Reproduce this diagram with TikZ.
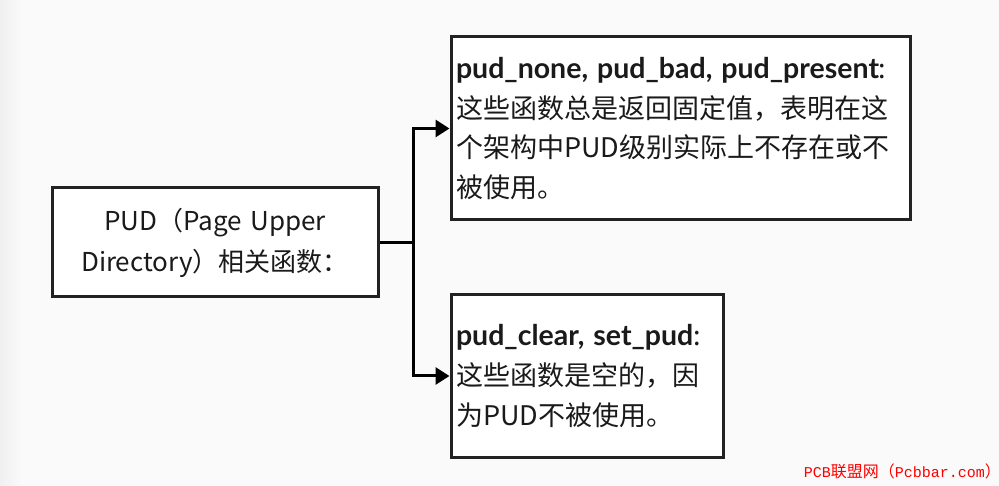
\documentclass[tikz,border=0pt]{standalone}
\usepackage{fontspec}
\setmainfont{Noto Sans CJK SC}
\newfontfamily\boldlat{Lato}[UprightFont=* Bold]
\newfontfamily\monolat{Liberation Mono}
\usetikzlibrary{arrows.meta}
\definecolor{bg}{HTML}{FAFAFA}
\definecolor{edge}{HTML}{222222}
\definecolor{ink}{HTML}{1A1A1A}
\definecolor{wm}{HTML}{FF0000}
\newcommand{\bl}[1]{{\boldlat\fontsize{28.5}{39.5}\selectfont #1}}
\tikzset{
  box/.style={draw=edge, line width=3pt, fill=white, text=ink, inner xsep=5pt, inner ysep=0pt, align=left},
  conn/.style={draw=black, line width=3pt},
  arr/.style={conn, -{Triangle[length=14pt,width=17pt]}},
}
\begin{document}
\begin{tikzpicture}[x=1pt,y=-1pt]
\fill[bg] (0,0) rectangle (999,486);
\shade[left color=black!6, right color=bg, draw=none] (0,0) rectangle (22,486);
\useasboundingbox (0,0) rectangle (999,486);

\node[box, minimum width=326pt, minimum height=109pt, align=center, text width=316pt,
  font=\fontsize{26}{41}\selectfont] (pud) at (215,242.5)
  {PUD（Page Upper\\Directory）相关函数：};

\node[box, minimum width=459pt, minimum height=183pt, text width=449pt,
  font=\fontsize{27}{39.5}\selectfont] (top) at (680.5,128.5)
  {\bl{pud\_none, pud\_bad, pud\_present}:\\这些函数总是返回固定值，表明在这\\个架构中PUD级别实际上不存在或不\\被使用。};

\node[box, minimum width=272pt, minimum height=162pt, text width=262pt,
  font=\fontsize{27}{40}\selectfont] (bot) at (587,376)
  {\bl{pud\_clear, set\_pud}:\\这些函数是空的，因\\为PUD不被使用。};

\coordinate (j) at (413,242.5);
\draw[conn] (pud.east) -- (j);
\draw[arr] (j) |- (top.west);
\draw[arr] (j) |- (bot.west);

\node[text=wm, font=\fontsize{16}{16}\selectfont, anchor=east, inner sep=0pt] (mark) at (1001,471)
  {{\monolat\fontsize{15}{15}\selectfont PCB}联盟网（{\monolat\fontsize{15}{15}\selectfont Pcbbar.com}）};
\end{tikzpicture}
\end{document}
